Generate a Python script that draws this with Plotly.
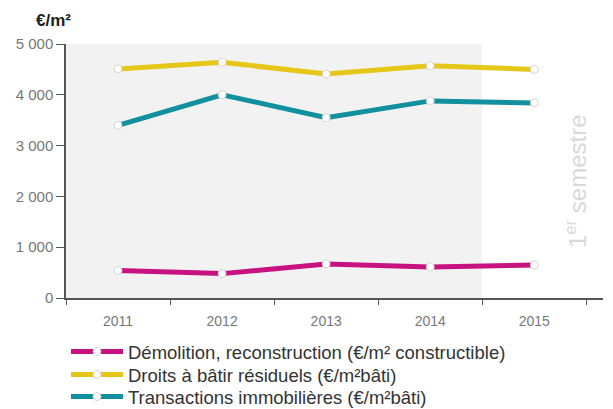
import plotly.graph_objects as go

years = ["2011", "2012", "2013", "2014", "2015"]
demolition = [540, 480, 670, 610, 650]
droits = [4510, 4640, 4410, 4570, 4500]
transactions = [3400, 4000, 3550, 3880, 3840]

names = [
    "Démolition, reconstruction (€/m² constructible)",
    "Droits à bâtir résiduels (€/m²bâti)",
    "Transactions immobilières (€/m²bâti)",
]
colors = ["#c8127f", "#e6c619", "#13909f"]
series = [demolition, droits, transactions]
legend_ids = ["legend", "legend2", "legend3"]
legend_y = [0.1394, 0.0831, 0.0293]

fig = go.Figure()
for name, vals, col, lg in zip(names, series, colors, legend_ids):
    fig.add_trace(go.Scatter(
        x=years, y=vals, name=name, mode="lines+markers", legend=lg,
        line=dict(color=col, width=5),
        marker=dict(color="white", size=8, line=dict(color="#cccccc", width=0.8)),
    ))

fig.add_shape(type="rect", xref="x", yref="paper", x0=-0.5, x1=3.5, y0=0, y1=1,
              fillcolor="#f2f2f2", line_width=0, layer="below")

fig.add_annotation(text="<b>€/m²</b>", xref="paper", yref="paper", x=-0.059, y=1.094,
                   xanchor="left", yanchor="middle", showarrow=False,
                   font=dict(size=17, color="#222", family="Arial"))
fig.add_annotation(text="1<sup>er</sup> semestre", xref="x", yref="paper", x=4.4, y=0.46,
                   textangle=-90, showarrow=False,
                   font=dict(size=24, color="#d9d9d9", family="Arial"))

leg_common = dict(x=0.0, xanchor="left", yanchor="middle", yref="container",
                  font=dict(size=18.5, color="#333", family="Arial"),
                  itemwidth=52, bgcolor="rgba(0,0,0,0)")
layout_legends = {}
for lg, ly in zip(legend_ids, legend_y):
    layout_legends[lg] = dict(leg_common, y=ly)

fig.update_layout(
    width=613, height=409,
    margin=dict(l=66, r=10, t=44, b=111, autoexpand=False),
    plot_bgcolor="white", paper_bgcolor="white",
    font=dict(family="Arial", color="#777"),
    showlegend=True,
    **layout_legends,
    xaxis=dict(type="category", range=[-0.5, 4.66], showline=True, linecolor="#555",
               linewidth=1.5, ticks="outside", tickson="boundaries", ticklen=5,
               tickcolor="#555", showgrid=False, ticklabelstandoff=9,
               tickfont=dict(size=14, color="#777")),
    yaxis=dict(range=[0, 5000], showline=True, linecolor="#555", linewidth=1.5,
               ticks="outside", ticklen=8, tickcolor="#555", showgrid=False,
               zeroline=False, tickvals=[0, 1000, 2000, 3000, 4000, 5000],
               ticktext=["0", "1 000", "2 000", "3 000", "4 000", "5 000"],
               tickfont=dict(size=15, color="#777")),
)

fig.write_html("out.html")
